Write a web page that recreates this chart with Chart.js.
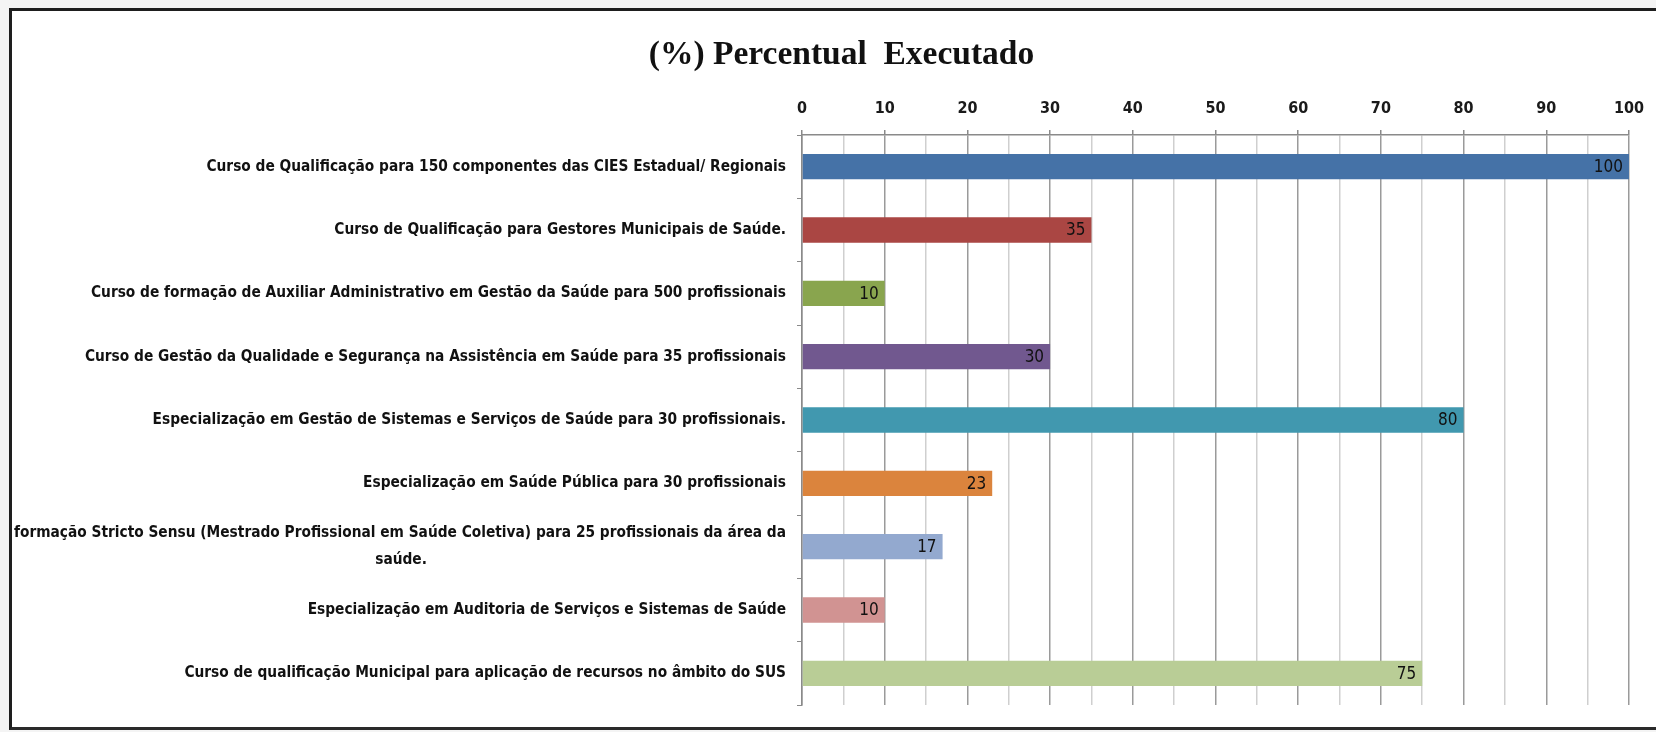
<!DOCTYPE html>
<html>
<head>
<meta charset="utf-8">
<script src="https://cdn.jsdelivr.net/npm/chart.js@4.4.1/dist/chart.umd.min.js"></script>
<style>
  html, body { margin: 0; padding: 0; background: #f4f4f4; overflow: hidden; width: 1656px; height: 732px; }
  #frame { position: absolute; left: 9px; top: 8px; width: 1647px; height: 716px;
           background: #ffffff; border-top: 3px solid #1e1e1e; border-left: 3px solid #1e1e1e; border-bottom: 3px solid #2a2a2a; }
  #wrap { position: absolute; left: 0; top: 0; width: 1656px; height: 732px; }
</style>
</head>
<body>
<div id="frame"></div>
<div id="wrap"><canvas id="c" width="1656" height="732"></canvas></div>
<script>
const titleText = '(%) Percentual  Executado';
const categories = [
  'Curso de Qualificação para 150 componentes das CIES Estadual/ Regionais',
  'Curso de Qualificação para Gestores Municipais de Saúde.',
  'Curso de formação de Auxiliar Administrativo em Gestão da Saúde para 500 profissionais',
  'Curso de Gestão da Qualidade e Segurança na Assistência em Saúde para 35 profissionais',
  'Especialização em Gestão de Sistemas e Serviços de Saúde para 30 profissionais.',
  'Especialização em Saúde Pública para 30 profissionais',
  ['formação Stricto Sensu (Mestrado Profissional em Saúde Coletiva) para 25 profissionais da área da', 'saúde.'],
  'Especialização em Auditoria de Serviços e Sistemas de Saúde',
  'Curso de qualificação Municipal para aplicação de recursos no âmbito do SUS'
];
const values = [100, 35, 10, 30, 80, 23, 17, 10, 75];
const barColors = ['#4572A7', '#AA4643', '#89A54E', '#71588F', '#4198AF', '#DB843D', '#93A9CF', '#D19392', '#B9CD96'];
const xTickValues = [0, 10, 20, 30, 40, 50, 60, 70, 80, 90, 100];

const fam = '"Liberation Sans Narrow", "DejaVu Sans Condensed", sans-serif';
const labelFont = { family: fam, size: 15.3, weight: 'bold', lineHeight: 1.75 };

// center wrapped lines under a right-aligned first line by padding with spaces
const mctx = document.createElement('canvas').getContext('2d');
mctx.font = 'bold 15.3px ' + fam;
function centerLines(lbl) {
  if (!Array.isArray(lbl)) return lbl;
  const w0 = mctx.measureText(lbl[0]).width;
  const sp = mctx.measureText(' ').width;
  return lbl.map((l, i) => {
    if (i === 0) return l;
    const w = mctx.measureText(l).width;
    const n = Math.max(0, Math.round((w0 - w) / 2 / sp));
    return l + ' '.repeat(n);
  });
}
const displayLabels = categories.map(centerLines);

const valueLabels = {
  id: 'valueLabels',
  afterLayout(chart) {
    // the reference title is centred slightly right of the canvas centre
    if (chart.titleBlock) chart.titleBlock.left = 48;
  },
  afterDatasetsDraw(chart) {
    const ctx = chart.ctx;
    const meta = chart.getDatasetMeta(0);
    ctx.save();
    ctx.font = '17px ' + fam;
    ctx.fillStyle = '#111';
    ctx.textAlign = 'right';
    ctx.textBaseline = 'middle';
    meta.data.forEach((bar, i) => {
      ctx.fillText(String(values[i]), bar.x - 6, bar.y + 1);
    });
    ctx.restore();
  }
};

new Chart(document.getElementById('c'), {
  type: 'bar',
  data: {
    labels: displayLabels,
    datasets: [{
      data: values,
      backgroundColor: barColors,
      borderWidth: 0,
      barPercentage: 0.4,
      categoryPercentage: 1.0
    }]
  },
  options: {
    indexAxis: 'y',
    responsive: false,
    animation: false,
    layout: { padding: { top: 22, left: 0, right: 21, bottom: 27 } },
    plugins: {
      legend: { display: false },
      tooltip: { enabled: false },
      title: {
        display: true,
        text: titleText,
        color: '#111',
        font: { family: '"Liberation Serif", "DejaVu Serif", serif', size: 33.5, weight: 'bold', lineHeight: 1.2 },
        padding: { top: 13, bottom: 0 }
      }
    },
    scales: {
      x: {
        position: 'top',
        min: 0, max: 100,
        afterBuildTicks(scale) {
          const t = [];
          for (let v = 0; v <= 100; v += 5) t.push({ value: v });
          scale.ticks = t;
        },
        afterFit(scale) { scale.height = 135 - 22 - 13 - 33.5 * 1.2; },
        ticks: {
          autoSkip: false, maxRotation: 0, padding: 12,
          color: '#1a1a1a',
          font: { family: fam, size: 16, weight: 'bold' },
          callback: (v) => xTickValues.includes(v) ? String(v) : ''
        },
        grid: {
          drawTicks: true, tickLength: 5,
          color: (c) => (c.tick && c.tick.value % 10 === 0) ? '#9a9a9a' : '#cfcfcf',
          tickColor: (c) => (c.tick && c.tick.value % 10 === 0) ? '#8a8a8a' : 'rgba(0,0,0,0)',
          lineWidth: 1.5
        },
        border: { display: true, color: '#8a8a8a', width: 1.5 }
      },
      y: {
        afterFit(scale) { scale.width = 802; },
        ticks: {
          autoSkip: false, padding: 11,
          color: '#111',
          font: labelFont
        },
        grid: { drawOnChartArea: false, drawTicks: true, tickLength: 5, color: '#8a8a8a', offset: true },
        border: { display: true, color: '#8a8a8a', width: 1.5 }
      }
    }
  },
  plugins: [valueLabels]
});
</script>
</body>
</html>
